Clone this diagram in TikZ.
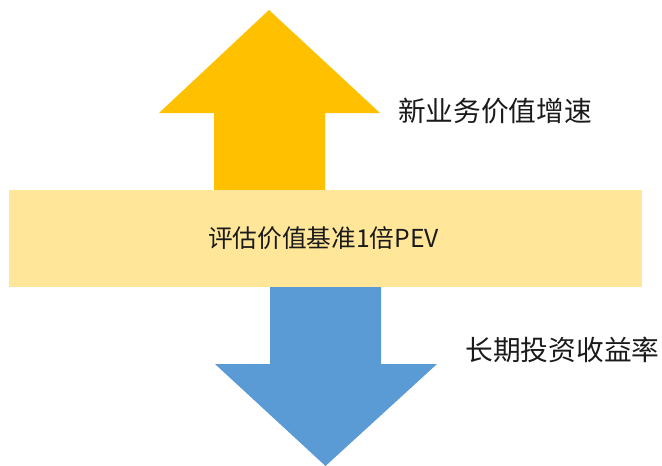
\documentclass[tikz,border=0pt]{standalone}
\usepackage{fontspec}
\newfontfamily\cjk{Noto Sans CJK SC}
\definecolor{upyellow}{HTML}{FFC000}
\definecolor{bandyellow}{HTML}{FFE699}
\definecolor{downblue}{HTML}{5B9BD5}
\definecolor{txt}{HTML}{1A1A1A}
\begin{document}
\begin{tikzpicture}[x=1pt,y=-1pt,
  lbl/.style={font=\cjk\fontsize{27.7}{30}\selectfont, text=txt, inner sep=0pt},
  bandlbl/.style={font=\cjk\fontsize{24.7}{28}\selectfont, text=txt, inner sep=0pt}]
\useasboundingbox (0,0) rectangle (662,466);
% up arrow
\fill[upyellow] (269,10) -- (380,113) -- (325,113) -- (325,191) -- (214,191) -- (214,113) -- (159,113) -- cycle;
% down arrow
\fill[downblue] (270,285) -- (381,285) -- (381,364) -- (437,364) -- (325.5,466) -- (215,364) -- (270,364) -- cycle;
% band
\fill[bandyellow] (9,190) rectangle (642,287);
\node[bandlbl] (band) at (323.5,238) {评估价值基准1倍PEV};
\node[lbl] (up) at (495,111) {新业务价值增速};
\node[lbl] (down) at (562.5,350) {长期投资收益率};
\end{tikzpicture}
\end{document}
